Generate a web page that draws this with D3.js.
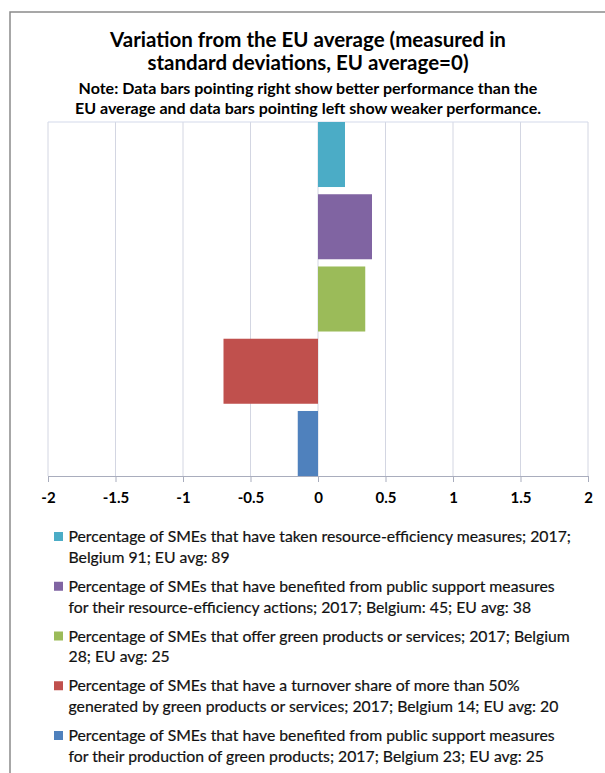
<!DOCTYPE html>
<html><head><meta charset="utf-8">
<script src="https://cdn.jsdelivr.net/npm/d3@7/dist/d3.min.js"></script>
<style>body{margin:0;background:#fff;}svg{display:block;}</style>
</head><body>
<svg id="c" width="605" height="773"></svg>
<script>
const categories = ["resource-efficiency measures","public support resource-efficiency","green products or services","turnover >50% green","public support green products"];
const values = [0.20, 0.40, 0.35, -0.70, -0.15];
const colors = ["#4BACC6","#8064A2","#9BBB59","#C0504D","#4F81BD"];
const tickValues = [-2,-1.5,-1,-0.5,0,0.5,1,1.5,2];
const titleLines = ["Variation from the EU average (measured in","standard deviations, EU average=0)"];
const noteLines = ["Note: Data bars pointing right show better performance than the","EU average and data bars pointing left show weaker performance."];
const legendLabels = [
 ["Percentage of SMEs that have taken resource-efficiency measures; 2017;","Belgium 91; EU avg: 89"],
 ["Percentage of SMEs that have benefited from public support measures","for their resource-efficiency actions; 2017; Belgium: 45; EU avg: 38"],
 ["Percentage of SMEs that offer green products or services; 2017; Belgium","28; EU avg: 25"],
 ["Percentage of SMEs that have a turnover share of more than 50%","generated by green products or services; 2017; Belgium 14; EU avg: 20"],
 ["Percentage of SMEs that have benefited from public support measures","for their production of green products; 2017; Belgium 23; EU avg: 25"]
];

const svg = d3.select("#c");
const FONT = "Lato, 'Open Sans', sans-serif";

// chart border
svg.append("rect").attr("x",10).attr("y",12).attr("width",620).attr("height",800)
  .attr("fill","none").attr("stroke","#8a8a8a").attr("stroke-width",1.5);

// fit helper: find font-size so a given text has target width
function fitSize(text, weight, target, base){
  const t = svg.append("text").attr("font-family",FONT).attr("font-weight",weight)
    .attr("font-size",base).text(text);
  const w = t.node().getComputedTextLength();
  t.remove();
  return base*target/w;
}

const titleSize = fitSize(titleLines[0],"bold",396,20);
svg.selectAll(".title").data(titleLines).join("text")
  .attr("x",308).attr("y",(d,i)=>[40,63][i]).attr("dy","0.35em")
  .attr("text-anchor","middle").attr("font-family",FONT).attr("font-weight","bold")
  .attr("font-size",titleSize).attr("fill","#000").text(d=>d);

const noteSize = fitSize(noteLines[0],"bold",459,14);
svg.selectAll(".note").data(noteLines).join("text")
  .attr("x",308).attr("y",(d,i)=>[88.5,108.5][i]).attr("dy","0.35em")
  .attr("text-anchor","middle").attr("font-family",FONT).attr("font-weight","bold")
  .attr("font-size",noteSize).attr("fill","#000").text(d=>d);

// plot
const L=48, R=588, T=122, B=476;
const x = d3.scaleLinear().domain([-2,2]).range([L,R]);
const y = d3.scaleBand().domain(categories).range([T,B]).paddingInner(0.1).paddingOuter(0);

// gridlines
svg.append("g").selectAll("line").data(tickValues).join("line")
  .attr("x1",d=>x(d)).attr("x2",d=>x(d)).attr("y1",T).attr("y2",B)
  .attr("stroke","#d3d6e2").attr("stroke-width",1);
svg.append("line").attr("x1",L).attr("x2",R).attr("y1",T).attr("y2",T)
  .attr("stroke","#d3d9ea").attr("stroke-width",1);

// bars
svg.append("g").selectAll("rect").data(values).join("rect")
  .attr("x",d=>x(Math.min(0,d))).attr("width",d=>Math.abs(x(d)-x(0)))
  .attr("y",(d,i)=>y(categories[i])).attr("height",y.bandwidth())
  .attr("fill",(d,i)=>colors[i]);

// x axis
const ax = svg.append("g").attr("transform",`translate(0,${B})`)
  .call(d3.axisBottom(x).tickValues(tickValues).tickSize(6).tickPadding(10).tickFormat(d=>String(d)));
ax.select(".domain").attr("stroke","#a9adbd");
ax.selectAll(".tick line").attr("stroke","#a9adbd");
ax.selectAll(".tick text").attr("font-family",FONT).attr("font-weight","bold")
  .attr("font-size",15).attr("fill","#000");

// legend
const legSize = fitSize(legendLabels[0][0],"normal",503,15);
const lg = svg.append("g").selectAll("g").data(legendLabels).join("g")
  .attr("transform",(d,i)=>`translate(0,${536.5+i*49.75})`);
lg.append("rect").attr("x",54).attr("y",-4.5).attr("width",9).attr("height",9)
  .attr("fill",(d,i)=>colors[i]);
lg.each(function(lines){
  d3.select(this).selectAll("text").data(lines).join("text")
    .attr("x",68.5).attr("y",(d,j)=>j*20.8).attr("dy","0.35em")
    .attr("font-family",FONT).attr("font-size",legSize).attr("fill","#111")
    .attr("stroke","#111").attr("stroke-width",0.2).text(d=>d);
});
</script>
</body></html>
